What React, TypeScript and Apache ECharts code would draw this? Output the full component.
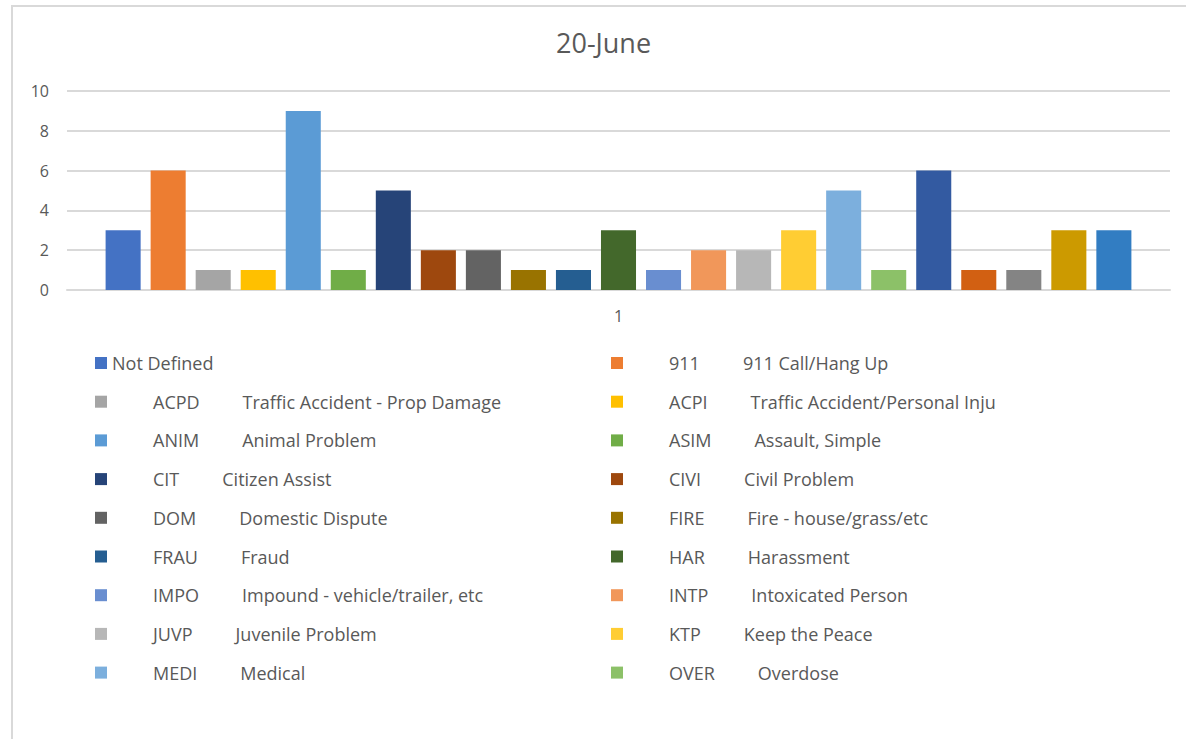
import React, { useEffect, useRef } from "react";
import * as echarts from "echarts";

const TITLE = "20-June";
const CATEGORIES = ["1"];
const CODES = [
  "", "911", "ACPD", "ACPI", "ANIM", "ASIM", "CIT", "CIVI", "DOM", "FIRE",
  "FRAU", "HAR", "IMPO", "INTP", "JUVP", "KTP", "MEDI", "OVER",
  "S19", "S20", "S21", "S22", "S23",
];
const DESCRIPTIONS = [
  "Not Defined", "911 Call/Hang Up", "Traffic Accident - Prop Damage", "Traffic Accident/Personal Inju",
  "Animal Problem", "Assault, Simple", "Citizen Assist", "Civil Problem", "Domestic Dispute",
  "Fire - house/grass/etc", "Fraud", "Harassment", "Impound - vehicle/trailer, etc",
  "Intoxicated Person", "Juvenile Problem", "Keep the Peace", "Medical", "Overdose",
  "", "", "", "", "",
];
const VALUES = [3, 6, 1, 1, 9, 1, 5, 2, 2, 1, 1, 3, 1, 2, 2, 3, 5, 1, 6, 1, 1, 3, 3];
const COLORS = [
  "#4472C4", "#ED7D31", "#A5A5A5", "#FFC000", "#5B9BD5", "#70AD47",
  "#264478", "#9E480E", "#636363", "#997300", "#255E91", "#43682B",
  "#698ED0", "#F1975A", "#B7B7B7", "#FFCD33", "#7CAFDD", "#8CC168",
  "#335AA1", "#D26012", "#848484", "#CC9A00", "#327DC2",
];
const LEGEND_COUNT = 18;
const Y_MIN = 0;
const Y_MAX = 10;
const Y_INTERVAL = 2;

const FONT = "'Open Sans', 'Noto Sans', sans-serif";
const TEXT_COLOR = "#595959";

function seriesName(i: number): string {
  if (i >= LEGEND_COUNT) return "Series " + (i + 1);
  return CODES[i] ? CODES[i] + " " + DESCRIPTIONS[i] : DESCRIPTIONS[i];
}

export default function App() {
  const ref = useRef<HTMLDivElement>(null);
  useEffect(() => {
    if (!ref.current) return;
    const chart = echarts.init(ref.current, undefined, { renderer: "svg" });
    const names = VALUES.map((_, i) => seriesName(i));
    const legendNames = names.slice(0, LEGEND_COUNT);
    const leftNames = legendNames.filter((_, i) => i % 2 === 0);
    const rightNames = legendNames.filter((_, i) => i % 2 === 1);
    const formatter = (name: string) => {
      const i = names.indexOf(name);
      if (!CODES[i]) return "{p|" + DESCRIPTIONS[i] + "}";
      return "{c|" + CODES[i] + "}{d|" + DESCRIPTIONS[i] + "}";
    };
    const rich = {
      p: { fontFamily: FONT, fontSize: 18, color: TEXT_COLOR, lineHeight: 20 },
      c: { fontFamily: FONT, fontSize: 18, color: TEXT_COLOR, lineHeight: 20, padding: [0, 0, 0, 41] },
      d: { fontFamily: FONT, fontSize: 18, color: TEXT_COLOR, lineHeight: 20, padding: [0, 0, 0, 43] },
    };
    const legendBase = {
      orient: "vertical",
      top: 353,
      padding: 0,
      itemWidth: 12,
      itemHeight: 12,
      itemGap: 18.7,
      icon: "rect",
      selectedMode: false,
      formatter,
      textStyle: { fontFamily: FONT, fontSize: 18, color: TEXT_COLOR, lineHeight: 20, rich },
    };
    chart.setOption({
      animation: false,
      backgroundColor: "#ffffff",
      title: {
        text: TITLE,
        left: 551,
        top: 24,
        textStyle: { fontFamily: FONT, fontSize: 27, fontWeight: "normal", color: TEXT_COLOR },
      },
      graphic: [
        {
          type: "rect",
          shape: { x: 12, y: 6, width: 1400, height: 1000 },
          style: { fill: "none", stroke: "#d9d9d9", lineWidth: 2 },
          silent: true,
        },
      ],
      legend: [
        { ...legendBase, left: 95, data: leftNames },
        { ...legendBase, left: 611, data: rightNames },
      ],
      grid: { left: 67, right: 16, top: 91, bottom: 449, containLabel: false },
      xAxis: {
        type: "category",
        data: CATEGORIES,
        axisLine: { lineStyle: { color: "#d9d9d9", width: 2 } },
        axisTick: { show: false },
        axisLabel: { fontFamily: FONT, fontSize: 16, color: TEXT_COLOR, margin: 18 },
      },
      yAxis: {
        type: "value",
        min: Y_MIN,
        max: Y_MAX,
        interval: Y_INTERVAL,
        axisLine: { show: false },
        axisTick: { show: false },
        axisLabel: { fontFamily: FONT, fontSize: 16, color: TEXT_COLOR, margin: 18 },
        splitLine: { lineStyle: { color: "#d9d9d9", width: 2 } },
      },
      series: VALUES.map((v, i) => ({
        name: names[i],
        type: "bar",
        data: [v],
        itemStyle: { color: COLORS[i] },
        barGap: "28.5%",
        barCategoryGap: "7%",
      })),
    });
    return () => chart.dispose();
  }, []);
  return (
    <div
      ref={ref}
      style={{ position: "fixed", left: 0, top: 0, width: 1186, height: 739, background: "#fff" }}
    />
  );
}
